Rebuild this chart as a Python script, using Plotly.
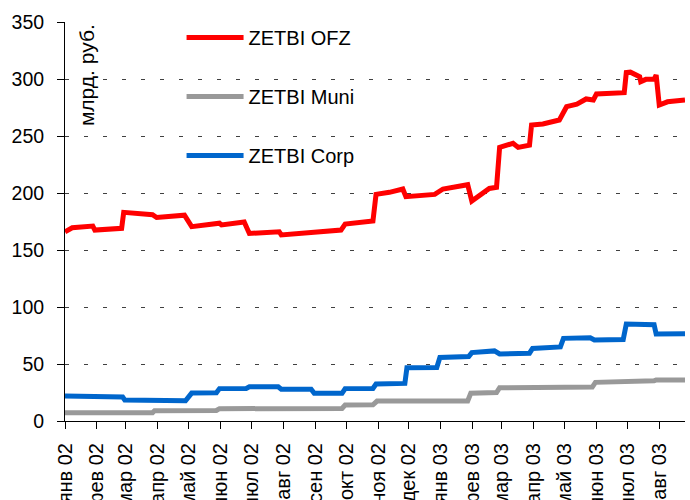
import plotly.graph_objects as go

# ---- data ----
ofz_dates = ["2002-01-01","2002-01-08","2002-01-28","2002-01-30","2002-02-25","2002-02-27",
             "2002-03-27","2002-03-31","2002-04-27","2002-05-04","2002-05-31","2002-06-02",
             "2002-06-24","2002-06-29","2002-07-28","2002-07-30","2002-09-26","2002-09-30",
             "2002-10-27","2002-10-30","2002-11-12","2002-11-25","2002-11-28","2002-12-26",
             "2003-01-03","2003-01-27","2003-01-31","2003-02-06","2003-02-17","2003-02-24",
             "2003-02-27","2003-03-12","2003-03-17","2003-03-28","2003-03-30","2003-04-10",
             "2003-04-26","2003-05-03","2003-05-13","2003-05-22","2003-05-29","2003-06-01",
             "2003-06-28","2003-06-30","2003-07-04","2003-07-13","2003-07-14","2003-07-19",
             "2003-07-27","2003-07-29","2003-08-01","2003-08-09","2003-08-26"]
ofz_values = [166,169.5,171,167.5,169,183,
              181,178.5,180.5,170.5,173.5,172,
              174.5,164.5,166,163.2,167.5,172.8,
              175.4,198.8,200.6,203.5,196.8,198.8,
              203.5,207.3,193,196.8,204,205,
              240,243.6,240,242,259.6,260.5,
              264,275.7,278,282.5,281.6,286.8,
              288,305.6,306,302,297.7,299.7,
              299.7,303.5,277.2,280,281.6]

muni_dates = ["2002-01-01","2002-01-31","2002-02-01","2002-03-27","2002-03-29","2002-05-28",
              "2002-05-31","2002-07-27","2002-07-30","2002-08-27","2002-08-30","2002-09-27",
              "2002-09-30","2002-10-27","2002-10-31","2003-01-27","2003-01-30","2003-02-24",
              "2003-02-27","2003-05-28","2003-05-31","2003-06-27","2003-06-30","2003-07-27",
              "2003-07-29","2003-08-26"]
muni_values = [7.3,7.3,7.0,7.2,9.1,9.2,
               10.8,10.8,10.2,10.2,10.8,11.0,
               14.0,14.2,17.5,17.5,24.3,25.0,
               29.2,29.8,33.9,34.0,35.0,35.2,
               36.0,36.0]

corp_dates = ["2002-01-01","2002-01-31","2002-02-01","2002-02-26","2002-02-28","2002-03-27",
              "2002-03-29","2002-04-28","2002-05-04","2002-05-28","2002-05-31","2002-06-26",
              "2002-06-29","2002-07-27","2002-07-30","2002-08-28","2002-08-31","2002-09-27",
              "2002-09-30","2002-10-27","2002-10-30","2002-11-27","2002-11-29","2002-12-28",
              "2002-12-31","2003-01-28","2003-01-31","2003-02-22","2003-02-27","2003-03-28",
              "2003-03-31","2003-04-27","2003-04-30","2003-05-26","2003-05-30","2003-06-27",
              "2003-06-30","2003-07-27","2003-07-29","2003-08-26"]
corp_values = [22,22,21,21,18.5,18.5,
               17.8,17.8,24.5,24.8,28.4,28.6,
               30,30,27.8,27.8,24.3,24.3,
               28.4,28.6,32.5,33,46.8,47,
               55.8,56.5,60,61.5,58.8,59.5,
               63.7,65,72.5,73,71,71.5,
               85,84.5,76.3,76.5]

tick_vals = ["2002-01-01","2002-02-01","2002-03-01","2002-04-01","2002-05-01","2002-06-01",
             "2002-07-01","2002-08-01","2002-09-01","2002-10-01","2002-11-01","2002-12-01",
             "2003-01-01","2003-02-01","2003-03-01","2003-04-01","2003-05-01","2003-06-01",
             "2003-07-01","2003-08-01"]
tick_text = ["янв 02","фев 02","мар 02","апр 02","май 02","июн 02","июл 02","авг 02",
             "сен 02","окт 02","ноя 02","дек 02","янв 03","фев 03","мар 03","апр 03",
             "май 03","июн 03","июл 03","авг 03"]
x_range = ["2002-01-01", "2003-08-26"]
y_ticks = [0, 50, 100, 150, 200, 250, 300, 350]

FONT = "Arial, Liberation Sans, sans-serif"

fig = go.Figure()
fig.add_trace(go.Scatter(x=ofz_dates, y=ofz_values, mode="lines", name="ZETBI OFZ",
                         legendgroup="a", line=dict(color="#FF0000", width=5)))
fig.add_trace(go.Scatter(x=muni_dates, y=muni_values, mode="lines", name="ZETBI Muni",
                         legendgroup="b", line=dict(color="#999999", width=5)))
fig.add_trace(go.Scatter(x=corp_dates, y=corp_values, mode="lines", name="ZETBI Corp",
                         legendgroup="c", line=dict(color="#0066CC", width=5)))

fig.update_layout(
    width=690, height=500,
    margin=dict(l=65, r=5, t=22, b=79, autoexpand=False),
    paper_bgcolor="white", plot_bgcolor="white",
    font=dict(family=FONT, size=19, color="black"),
    showlegend=True,
    legend=dict(x=0.188, y=0.964, xref="paper", yref="container",
                xanchor="left", yanchor="top",
                font=dict(size=20, family=FONT, color="black"),
                bgcolor="rgba(0,0,0,0)", tracegroupgap=30, itemwidth=57),
    xaxis=dict(type="date", range=x_range, tickmode="array", tickvals=tick_vals,
               ticktext=tick_text, tickangle=-90, ticks="outside", ticklen=7,
               tickcolor="black", showline=True, linecolor="black", linewidth=1,
               showgrid=False, zeroline=False, tickfont=dict(size=20),
               automargin=False, ticklabelstandoff=6),
    xaxis2=dict(type="date", range=x_range, overlaying="x", anchor="y", side="bottom",
                tickmode="array", tickvals=tick_vals, ticks="inside", ticklen=6,
                tickcolor="black", showticklabels=False, showgrid=False,
                showline=False, zeroline=False, automargin=False),
    yaxis=dict(range=[0, 350], tickmode="array", tickvals=y_ticks, ticks="outside",
               ticklen=7, tickcolor="black", showline=True, linecolor="black",
               linewidth=1, showgrid=True, gridcolor="#404040", gridwidth=1,
               griddash="4px,15px", zeroline=False, tickfont=dict(size=19.5),
               automargin=False, ticklabelstandoff=9),
    annotations=[dict(text="млрд. руб.", textangle=-90, xref="paper", yref="paper",
                      x=0.034, y=1.0, xanchor="center", yanchor="top", showarrow=False,
                      bgcolor="white", font=dict(size=21, family=FONT, color="black"))],
)

fig.write_html("out.html", config={"displayModeBar": False},
               post_script="document.body.style.margin='0px';")
